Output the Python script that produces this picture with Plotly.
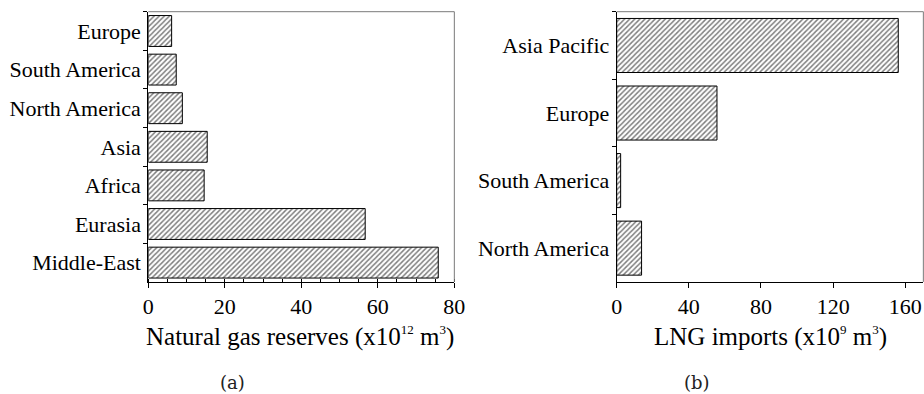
import plotly.graph_objects as go

# Natural gas proved reserves by region (x10^12 m^3), bottom to top
reserve_regions = ["Middle-East", "Eurasia", "Africa", "Asia",
                   "North America", "South America", "Europe"]
reserve_values = [75.8, 56.7, 14.6, 15.4, 8.9, 7.3, 6.1]

# LNG imports by region (x10^9 m^3), bottom to top
lng_regions = ["North America", "South America", "Europe", "Asia Pacific"]
lng_values = [13.8, 2.2, 55.6, 156.1]

SERIF = "Liberation Serif"
hatch = dict(shape="/", fgcolor="black", bgcolor="white", size=3.6, solidity=0.42)

fig = go.Figure()
fig.add_trace(go.Bar(
    x=reserve_values, y=reserve_regions, orientation="h",
    marker=dict(color="white", pattern=hatch, line=dict(color="black", width=1)),
    xaxis="x", yaxis="y", showlegend=False,
))
fig.add_trace(go.Bar(
    x=lng_values, y=lng_regions, orientation="h",
    marker=dict(color="white", pattern=hatch, line=dict(color="black", width=1)),
    xaxis="x2", yaxis="y2", showlegend=False,
))

Y_DOM = [0.2845, 0.9703]
common_x = dict(
    showgrid=False, zeroline=False, showline=True, linecolor="black", linewidth=1,
    ticks="outside", ticklen=5, tickcolor="black", automargin=False,
    ticklabeloverflow="allow",
    tickfont=dict(family=SERIF, size=22, color="black"),
)
common_y = dict(
    type="category", showgrid=False, zeroline=False, showline=True,
    linecolor="black", linewidth=1, ticks="outside", ticklen=4, tickcolor="black",
    tickson="boundaries", automargin=False, ticklabelstandoff=2,
    tickfont=dict(family=SERIF, size=22, color="black"),
)

fig.update_layout(
    width=924, height=394,
    margin=dict(l=0, r=0, t=0, b=0, autoexpand=False),
    paper_bgcolor="white", plot_bgcolor="white",
    bargap=0.2,
    xaxis=dict(domain=[0.1605, 0.4917], range=[0, 80], dtick=20,
               minor=dict(dtick=5, ticks="inside", ticklen=3, tickcolor="black"),
               anchor="y", **common_x),
    yaxis=dict(domain=Y_DOM, range=[-0.5, 6.5], anchor="x", **common_y),
    xaxis2=dict(domain=[0.6674, 0.9993], range=[0, 170], dtick=40,
                anchor="y2", **common_x),
    yaxis2=dict(domain=Y_DOM, range=[-0.5, 3.5], anchor="x2", **common_y),
)

# light top/right frame edges
for xr, yr in (("x", "y"), ("x2", "y2")):
    fig.add_shape(type="line", xref=f"{xr} domain", yref=f"{yr} domain",
                  x0=0, x1=1, y0=1, y1=1, line=dict(color="#7a7a7a", width=1))
    fig.add_shape(type="line", xref=f"{xr} domain", yref=f"{yr} domain",
                  x0=1, x1=1, y0=0, y1=1, line=dict(color="#7a7a7a", width=1))

H = 394.0
def py(v):
    return 1 - v / H

def sup(s):
    return f"<sup><span style='font-size:13px'>{s}</span></sup>"

fig.add_annotation(text=f"Natural gas reserves (x10{sup('12')} m{sup('3')})",
                   x=300 / 924, y=py(336), xref="paper", yref="paper",
                   xanchor="center", yanchor="middle",
                   showarrow=False, font=dict(family=SERIF, size=25, color="black"))
fig.add_annotation(text=f"LNG imports (x10{sup('9')} m{sup('3')})",
                   x=770 / 924, y=py(336), xref="paper", yref="paper",
                   xanchor="center", yanchor="middle",
                   showarrow=False, font=dict(family=SERIF, size=25, color="black"))
fig.add_annotation(text="(a)", x=233 / 924, y=py(382), xref="paper", yref="paper",
                   xanchor="center", yanchor="middle",
                   showarrow=False, font=dict(family="DejaVu Serif", size=18, color="#222"))
fig.add_annotation(text="(b)", x=697 / 924, y=py(382), xref="paper", yref="paper",
                   xanchor="center", yanchor="middle",
                   showarrow=False, font=dict(family="DejaVu Serif", size=18, color="#222"))

fig.write_html("out.html")
